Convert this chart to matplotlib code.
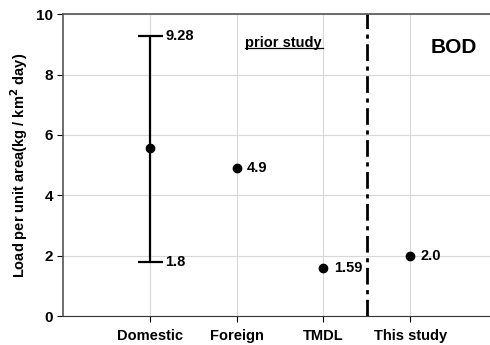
import matplotlib
matplotlib.use('Agg')
import matplotlib.pyplot as plt

plt.rcParams['font.family'] = ['Liberation Sans', 'DejaVu Sans']
plt.rcParams['font.weight'] = 'bold'
plt.rcParams['axes.labelweight'] = 'bold'
plt.rcParams['mathtext.default'] = 'bf'

categories = ['Domestic', 'Foreign', 'TMDL', 'This study']
values = [5.55, 4.9, 1.59, 2.0]
dom_low = 1.8
dom_high = 9.28
labels = ['9.28', '4.9', '1.59', '2.0']

fig = plt.figure(figsize=(4.9, 3.45), dpi=100)
ax = fig.add_axes([0.129, 0.084, 0.871, 0.875])

x = [1, 2, 3, 4]
ax.errorbar([x[0]], [values[0]], yerr=[[values[0] - dom_low], [dom_high - values[0]]],
            fmt='o', color='black', ms=6, capsize=9, elinewidth=1.6, capthick=1.6)
ax.plot(x[1:], values[1:], 'o', color='black', ms=6)

ax.text(x[0] + 0.18, dom_high, labels[0], va='center', fontsize=10.5)
ax.text(x[0] + 0.18, dom_low, '1.8', va='center', fontsize=10.5)
ax.text(x[1] + 0.12, values[1], labels[1], va='center', fontsize=10.5)
ax.text(x[2] + 0.12, values[2], labels[2], va='center', fontsize=10.5)
ax.text(x[3] + 0.12, values[3], labels[3], va='center', fontsize=10.5)

ax.text(2.1, 9.05, 'prior study', fontsize=10.5, va='center')
ax.plot([2.1, 2.99], [8.88, 8.88], color='black', lw=0.9)
ax.text(4.5, 8.9, 'BOD', fontsize=15, ha='center', va='center')

ax.axvline(3.5, color='black', lw=2, linestyle=(0, (6, 2, 1.5, 2)))

ax.set_xlim(0, 4.92)
ax.set_ylim(0, 10)
ax.set_xticks(x)
ax.set_xticklabels(categories, fontsize=10.5)
ax.set_yticks([0, 2, 4, 6, 8, 10])
ax.tick_params(axis='y', labelsize=11, length=4)
ax.tick_params(axis='x', length=4, pad=5)
ax.set_ylabel('Load per unit area(kg / km$^{2}$ day)', fontsize=10.5)
ax.grid(True, color='#d8d8d8', lw=0.8)
ax.set_axisbelow(True)
for s in ['left', 'top']:
    ax.spines[s].set_color('#555555')
    ax.spines[s].set_linewidth(1.2)
ax.spines['bottom'].set_color('#333333')
ax.spines['right'].set_visible(False)

fig.savefig('out.png', dpi=100)
